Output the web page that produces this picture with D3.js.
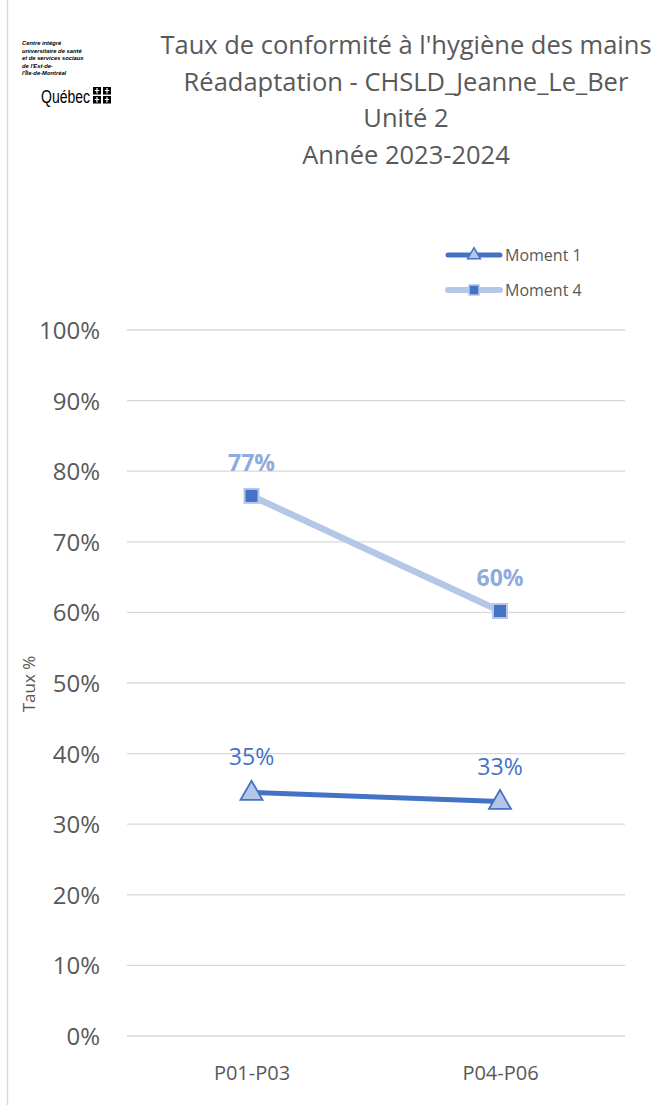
<!DOCTYPE html>
<html><head><meta charset="utf-8">
<script src="https://cdn.jsdelivr.net/npm/d3@7"></script>
<style>body{margin:0;background:#fff}svg{display:block}</style>
</head><body>
<svg id="c" width="653" height="1105"></svg>
<script>
const categories = ["P01-P03", "P04-P06"];
const moment1 = [34.5, 33.2];
const moment4 = [76.5, 60.2];
const labels1 = ["35%", "33%"];
const labels4 = ["77%", "60%"];
const yTicks = [0,10,20,30,40,50,60,70,80,90,100];
const titleLines = ["Taux de conformité à l'hygiène des mains","Réadaptation - CHSLD_Jeanne_Le_Ber","Unité 2","Année 2023-2024"];
const logoLines = ["Centre intégré","universitaire de santé","et de services sociaux","de l'Est-de-","l'Île-de-Montréal"];

const svg = d3.select("#c");
const F = "'Open Sans', 'Noto Sans', sans-serif";
const dark = "#4472C4", light = "#B4C7E7", lightLbl = "#8FAADC", grey="#595959";

svg.append("line").attr("x1",7.5).attr("x2",7.5).attr("y1",0).attr("y2",1105).attr("stroke","#d9d9d9").attr("stroke-width",1.5);

const x = d3.scalePoint().domain(categories).range([251.5, 500]);
const y = d3.scaleLinear().domain([0,100]).range([1036, 330]);
const xL = 127, xR = 625;

svg.append("g").selectAll("line").data(yTicks).join("line")
  .attr("x1",xL).attr("x2",xR).attr("y1",d=>y(d)).attr("y2",d=>y(d))
  .attr("stroke","#d9d9d9").attr("stroke-width",1.3);

const ya = svg.append("g").attr("transform","translate(100,0)")
  .call(d3.axisLeft(y).tickValues(yTicks).tickFormat(d=>d+"%").tickSize(0).tickPadding(0));
ya.select(".domain").remove();
ya.selectAll("text").attr("font-family",F).attr("font-size",24).attr("fill",grey).attr("dy","0.35em");

const xa = svg.append("g").attr("transform","translate(0,1062)")
  .call(d3.axisBottom(x).tickSize(0).tickPadding(0));
xa.select(".domain").remove();
xa.selectAll("text").attr("font-family",F).attr("font-size",20).attr("fill",grey).attr("dy","0.9em");

svg.append("text").attr("transform","translate(35,684) rotate(-90)").attr("text-anchor","middle")
  .attr("font-family",F).attr("font-size",17).attr("fill",grey).text("Taux %");

const line = d3.line().x((d,i)=>x(categories[i])).y(d=>y(d));

svg.append("path").datum(moment4).attr("d",line).attr("fill","none").attr("stroke",light).attr("stroke-width",6.5);
svg.append("g").selectAll("rect").data(moment4).join("rect")
  .attr("x",(d,i)=>x(categories[i])-7).attr("y",d=>y(d)-7).attr("width",14).attr("height",14)
  .attr("fill",dark).attr("stroke",light).attr("stroke-width",2);
svg.append("path").datum(moment1).attr("d",line).attr("fill","none").attr("stroke",dark).attr("stroke-width",5);
const tri = d3.symbol().type(d3.symbolTriangle).size(210);
svg.append("g").selectAll("path").data(moment1).join("path")
  .attr("d",tri).attr("transform",(d,i)=>`translate(${x(categories[i])},${y(d)+1})`)
  .attr("fill",light).attr("stroke",dark).attr("stroke-width",1.8);

svg.append("g").selectAll("text").data(moment4).join("text")
  .attr("x",(d,i)=>x(categories[i])).attr("y",d=>y(d)-25).attr("text-anchor","middle")
  .attr("font-family",F).attr("font-size",23).attr("font-weight","bold").attr("fill",lightLbl)
  .text((d,i)=>labels4[i]);
svg.append("g").selectAll("text").data(moment1).join("text")
  .attr("x",(d,i)=>x(categories[i])).attr("y",d=>y(d)-27).attr("text-anchor","middle")
  .attr("font-family",F).attr("font-size",23).attr("fill",dark)
  .text((d,i)=>labels1[i]);

svg.append("g").selectAll("text").data(titleLines).join("text")
  .attr("x",406).attr("y",(d,i)=>54+i*36.5).attr("text-anchor","middle")
  .attr("font-family",F).attr("font-size",25.5).attr("fill",grey).text(d=>d);

const leg = [{n:"Moment 1",c:dark,w:5,m:"tri"},{n:"Moment 4",c:light,w:6,m:"sq"}];
const lg = svg.append("g").selectAll("g").data(leg).join("g").attr("transform",(d,i)=>`translate(0,${255+i*35})`);
lg.append("line").attr("x1",448).attr("x2",500).attr("stroke",d=>d.c).attr("stroke-width",d=>d.w).attr("stroke-linecap","round");
lg.each(function(d){
  const g = d3.select(this);
  if(d.m==="tri") g.append("path").attr("d",d3.symbol().type(d3.symbolTriangle).size(70)).attr("transform","translate(474,0)").attr("fill",light).attr("stroke",dark).attr("stroke-width",1.5);
  else g.append("rect").attr("x",469).attr("y",-5).attr("width",10).attr("height",10).attr("fill",dark).attr("stroke",light).attr("stroke-width",1.5);
});
lg.append("text").attr("x",505).attr("dy","0.35em").attr("font-family",F).attr("font-size",16).attr("fill",grey).text(d=>d.n);

svg.append("g").selectAll("text").data(logoLines).join("text")
  .attr("x",22).attr("y",(d,i)=>45+i*7.5).attr("font-family","'Liberation Sans', sans-serif")
  .attr("font-size",5.8).attr("font-weight","bold").attr("font-style","italic").attr("fill","#000").text(d=>d);
svg.append("text").attr("x",41).attr("y",103).attr("font-family","'Liberation Sans',sans-serif")
  .attr("font-size",18).attr("fill","#000").attr("textLength",49).attr("lengthAdjust","spacingAndGlyphs").text("Québec");
const flag = svg.append("g").attr("transform","translate(93,87)");
[[0,0],[10,0],[0,9],[10,9]].forEach(p=>{
  flag.append("rect").attr("x",p[0]).attr("y",p[1]).attr("width",8).attr("height",7.5).attr("fill","#000");
  flag.append("path").attr("d",`M${p[0]+4},${p[1]+1}v5.5M${p[0]+1.8},${p[1]+3.5}h4.4`).attr("stroke","#fff").attr("stroke-width",1.2);
});
</script>
</body></html>
